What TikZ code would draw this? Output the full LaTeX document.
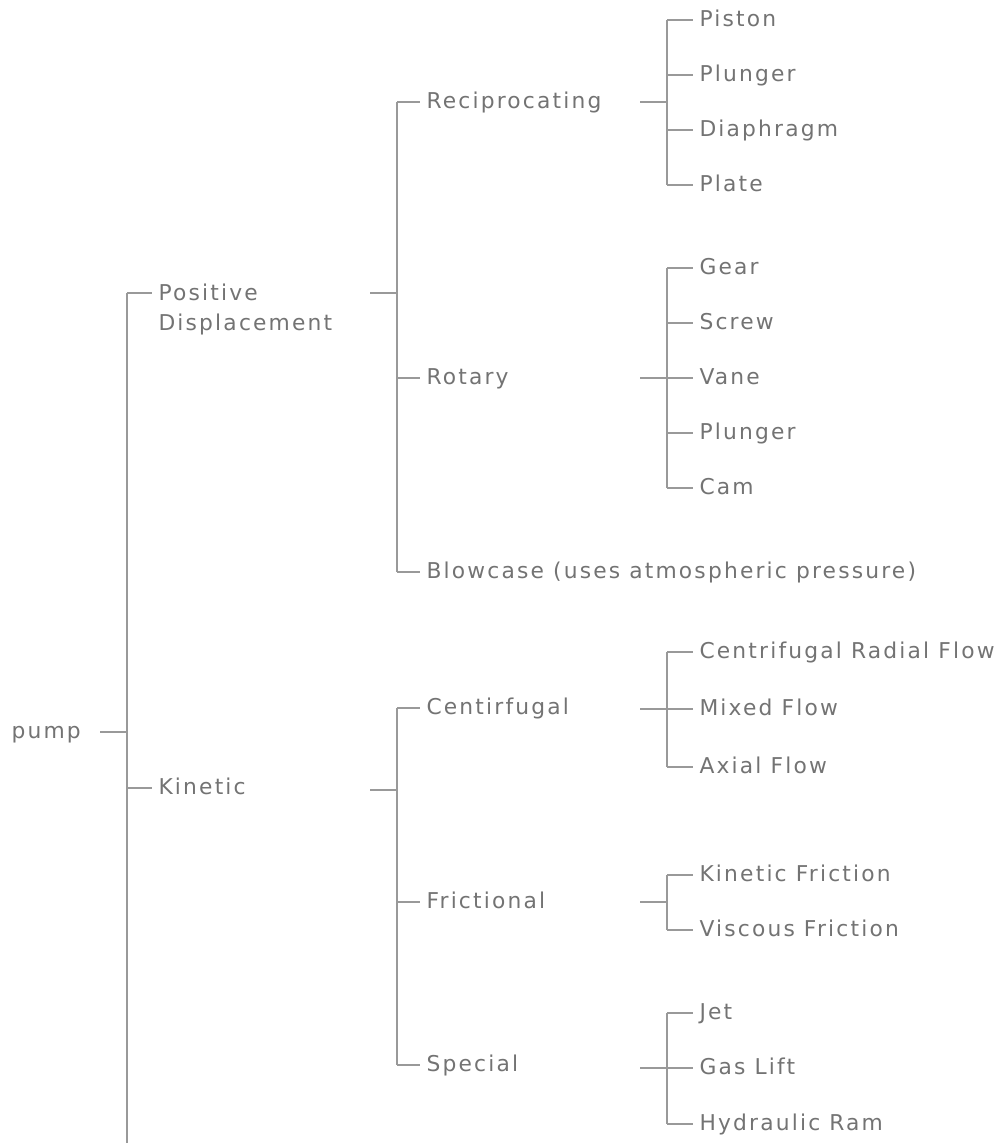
\documentclass[tikz,border=0pt]{standalone}
\usepackage{fontspec}
\setmainfont{DejaVu Sans}[LetterSpace=10]
\begin{document}
\begin{tikzpicture}[x=0.02cm, y=-0.02cm,
  every node/.style={font=\fontsize{12.4}{17}\selectfont, text=black!55, anchor=west, inner xsep=3.5pt, inner ysep=0pt, text height=0.73em, text depth=0pt},
  tick/.style={draw=black!40, line width=0.6pt}]
\useasboundingbox (0,0) rectangle (1001,1146);
% column positions of the brackets
\coordinate (c1) at (127,0);
\coordinate (c2) at (397,0);
\coordinate (c3) at (667,0);
\coordinate (bottom) at (127,1143);
% root and first level
\node (pump) at (5,732) {pump};
\node[align=left, anchor=base west, text height=, text depth=] (pd) at (152,330.5) {Positive\\Displacement};
\node (kin) at (152,788) {Kinetic};
\coordinate (pump-out) at (100,732);
\coordinate (pd-in) at (152,293);
\coordinate (pd-out) at (370,293);
\coordinate (kin-out) at (370,790);
\draw[tick] (pump-out) -- (c1 |- pump-out);
\draw[tick] (c1 |- pd-in) -- (bottom);
\draw[tick] (c1 |- pd-in) -- (pd-in);
\draw[tick] (c1 |- kin) -- (kin.west);
% second level
\node (recip) at (420,102) {Reciprocating};
\node (rot) at (420,378) {Rotary};
\node (blow) at (420,572) {Blowcase (uses atmospheric pressure)};
\node (cent) at (420,708) {Centirfugal};
\node (fric) at (420,902) {Frictional};
\node (spec) at (420,1065) {Special};
\draw[tick] (pd-out) -- (c2 |- pd-out);
\draw[tick] (c2 |- recip) -- (c2 |- blow);
\draw[tick] (c2 |- recip) -- (recip.west) (c2 |- rot) -- (rot.west) (c2 |- blow) -- (blow.west);
\draw[tick] (kin-out) -- (c2 |- kin-out);
\draw[tick] (c2 |- cent) -- (c2 |- spec);
\draw[tick] (c2 |- cent) -- (cent.west) (c2 |- fric) -- (fric.west) (c2 |- spec) -- (spec.west);
% third level
\node (piston) at (693,20) {Piston};
\node (plunA) at (693,75) {Plunger};
\node (diaph) at (693,130) {Diaphragm};
\node (plate) at (693,185) {Plate};
\coordinate (recip-out) at (640,102);
\draw[tick] (recip-out) -- (c3 |- recip-out);
\draw[tick] (c3 |- piston) -- (c3 |- plate);
\draw[tick] (c3 |- piston) -- (piston.west) (c3 |- plunA) -- (plunA.west) (c3 |- diaph) -- (diaph.west) (c3 |- plate) -- (plate.west);
\node (gear) at (693,268) {Gear};
\node (screw) at (693,323) {Screw};
\node (vane) at (693,378) {Vane};
\node (plunB) at (693,433) {Plunger};
\node (cam) at (693,488) {Cam};
\coordinate (rot-out) at (640,378);
\draw[tick] (rot-out) -- (c3 |- rot-out);
\draw[tick] (c3 |- gear) -- (c3 |- cam);
\draw[tick] (c3 |- gear) -- (gear.west) (c3 |- screw) -- (screw.west) (c3 |- vane) -- (vane.west) (c3 |- plunB) -- (plunB.west) (c3 |- cam) -- (cam.west);
\node (radial) at (693,652) {Centrifugal Radial Flow};
\node (mixed) at (693,709) {Mixed Flow};
\node (axial) at (693,767) {Axial Flow};
\coordinate (cent-out) at (640,709);
\draw[tick] (cent-out) -- (c3 |- cent-out);
\draw[tick] (c3 |- radial) -- (c3 |- axial);
\draw[tick] (c3 |- radial) -- (radial.west) (c3 |- mixed) -- (mixed.west) (c3 |- axial) -- (axial.west);
\node (kfric) at (693,875) {Kinetic Friction};
\node (vfric) at (693,930) {Viscous Friction};
\coordinate (fric-out) at (640,902);
\draw[tick] (fric-out) -- (c3 |- fric-out);
\draw[tick] (c3 |- kfric) -- (c3 |- vfric);
\draw[tick] (c3 |- kfric) -- (kfric.west) (c3 |- vfric) -- (vfric.west);
\node (jet) at (693,1013) {Jet};
\node (gas) at (693,1068) {Gas Lift};
\node (ram) at (693,1124) {Hydraulic Ram};
\coordinate (spec-out) at (640,1068);
\draw[tick] (spec-out) -- (c3 |- spec-out);
\draw[tick] (c3 |- jet) -- (c3 |- ram);
\draw[tick] (c3 |- jet) -- (jet.west) (c3 |- gas) -- (gas.west) (c3 |- ram) -- (ram.west);
\end{tikzpicture}
\end{document}
